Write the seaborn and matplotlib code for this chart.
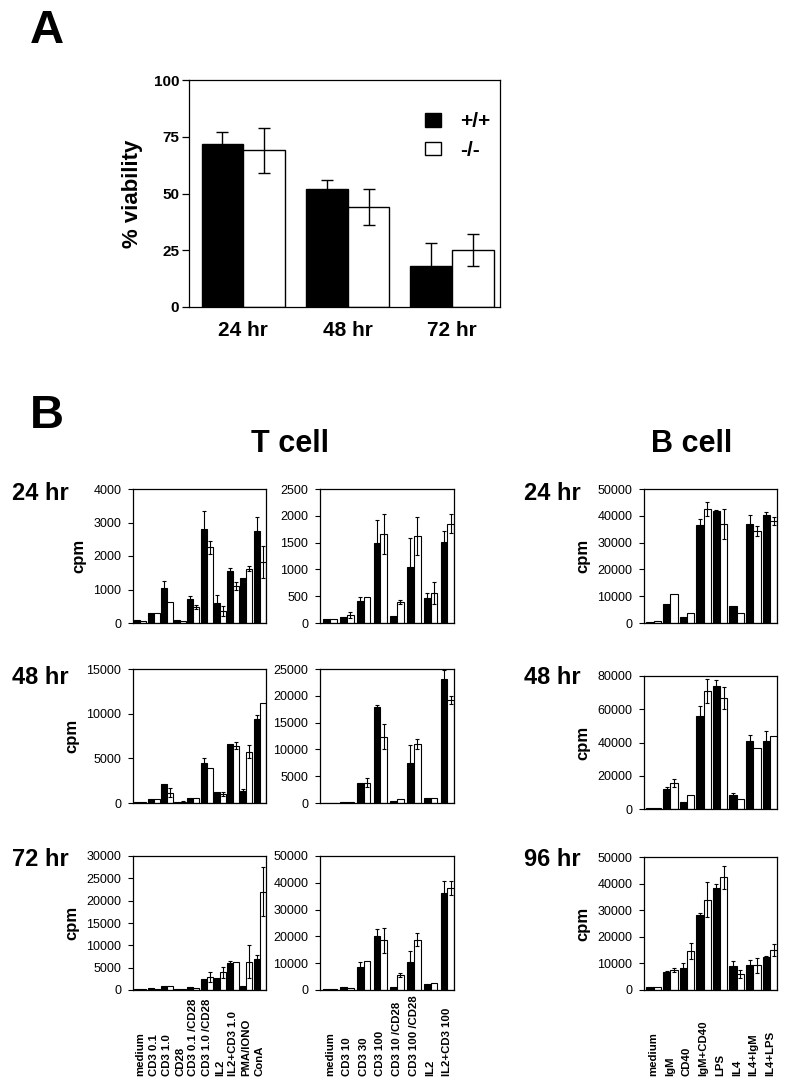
import matplotlib
matplotlib.use('Agg')
import matplotlib.pyplot as plt
import seaborn as sns
import pandas as pd

# ---------------- data ----------------
# panel A: viability
a_times = ['24 hr', '48 hr', '72 hr']
a_wt = [72, 52, 18]
a_wt_err = [5, 4, 10]
a_ko = [69, 44, 25]
a_ko_err = [10, 8, 7]

# panel B: proliferation (cpm)
t_set1 = ['medium', 'CD3 0.1', 'CD3 1.0', 'CD28', 'CD3 0.1 /CD28', 'CD3 1.0 /CD28',
          'IL2', 'IL2+CD3 1.0', 'PMA/IONO', 'ConA']
t_set2 = ['medium', 'CD3 10', 'CD3 30', 'CD3 100', 'CD3 10 /CD28', 'CD3 100 /CD28',
          'IL2', 'IL2+CD3 100']
b_set = ['medium', 'IgM', 'CD40', 'IgM+CD40', 'LPS', 'IL4', 'IL4+IgM', 'IL4+LPS']

t1_24_wt = [90, 300, 1050, 100, 720, 2800, 600, 1550, 1350, 2750]
t1_24_wt_err = [0, 0, 200, 0, 80, 550, 240, 80, 0, 410]
t1_24_ko = [50, 290, 620, 50, 470, 2260, 350, 1100, 1620, 1820]
t1_24_ko_err = [0, 0, 0, 0, 60, 200, 150, 120, 70, 470]

t1_48_wt = [150, 500, 2100, 110, 600, 4500, 1200, 6550, 1300, 9400]
t1_48_wt_err = [0, 0, 0, 0, 0, 500, 0, 0, 300, 400]
t1_48_ko = [100, 500, 1150, 110, 600, 3950, 980, 6400, 5750, 11200]
t1_48_ko_err = [0, 0, 500, 150, 0, 0, 250, 400, 700, 0]

t1_72_wt = [200, 500, 800, 300, 700, 2400, 2700, 6100, 1000, 6900]
t1_72_wt_err = [0, 0, 0, 0, 0, 0, 0, 500, 0, 1000]
t1_72_ko = [150, 300, 800, 300, 350, 2900, 4000, 6300, 6300, 22000]
t1_72_ko_err = [0, 0, 0, 0, 0, 1200, 1250, 0, 3700, 5500]

t2_24_wt = [70, 115, 410, 1500, 130, 1040, 470, 1510]
t2_24_wt_err = [0, 0, 80, 420, 0, 540, 90, 200]
t2_24_ko = [70, 150, 480, 1660, 390, 1620, 560, 1850]
t2_24_ko_err = [0, 60, 0, 380, 40, 360, 200, 180]

t2_48_wt = [80, 150, 3700, 18000, 400, 7400, 950, 23100]
t2_48_wt_err = [0, 0, 0, 200, 0, 3400, 0, 1700]
t2_48_ko = [80, 250, 3800, 12400, 700, 11000, 950, 19200]
t2_48_ko_err = [0, 0, 800, 2300, 0, 1000, 0, 800]

t2_72_wt = [200, 1000, 8600, 20000, 1000, 10500, 2200, 36100]
t2_72_wt_err = [0, 0, 1900, 2700, 0, 4100, 0, 4600]
t2_72_ko = [200, 600, 10800, 18500, 5600, 18800, 2500, 38000]
t2_72_ko_err = [0, 0, 0, 4600, 800, 2500, 0, 2600]

b_24_wt = [400, 7200, 2400, 36700, 41700, 6300, 37000, 40200]
b_24_wt_err = [0, 0, 0, 2000, 600, 0, 3200, 1200]
b_24_ko = [600, 10800, 3700, 42500, 37000, 3700, 34300, 38200]
b_24_ko_err = [0, 0, 0, 2600, 5700, 0, 2000, 1500]

b_48_wt = [500, 12000, 4400, 55800, 73800, 8400, 40800, 40800]
b_48_wt_err = [0, 1200, 0, 6200, 4000, 1400, 3600, 6400]
b_48_ko = [500, 15800, 8600, 71200, 66800, 6200, 36800, 44200]
b_48_ko_err = [0, 2500, 0, 7200, 6600, 0, 0, 0]

b_96_wt = [1000, 6800, 8400, 28100, 38200, 9000, 9250, 12250]
b_96_wt_err = [0, 500, 1800, 900, 1800, 2000, 1900, 500]
b_96_ko = [1000, 7600, 14800, 34000, 42300, 6100, 9300, 15000]
b_96_ko_err = [0, 700, 3000, 6500, 4300, 1600, 2800, 2200]

genos = ['+/+', '-/-']

# ---------------- style ----------------
sns.set_theme(style='ticks')
plt.rcParams['font.family'] = ['Liberation Sans', 'DejaVu Sans']
plt.rcParams.update({
    'axes.edgecolor': 'black', 'axes.linewidth': 0.9,
    'text.color': 'black', 'axes.labelcolor': 'black',
    'xtick.color': 'black', 'ytick.color': 'black',
})

W, H = 792, 1087
fig = plt.figure(figsize=(W / 100, H / 100), dpi=100)


def px_axes(left, right, top, bottom):
    return fig.add_axes([left / W, 1 - bottom / H, (right - left) / W, (bottom - top) / H])


def draw_bars(ax, cats, wt, wt_err, ko, ko_err, width, lw, capsize):
    df = pd.DataFrame({
        'cond': cats * 2,
        'geno': [genos[0]] * len(cats) + [genos[1]] * len(cats),
        'val': wt + ko,
    })
    sns.barplot(data=df, x='cond', y='val', hue='geno', order=cats, hue_order=genos,
                palette={'+/+': 'black', '-/-': 'white'}, edgecolor='black',
                linewidth=lw, width=width, saturation=1, errorbar=None, ax=ax)
    bars = list(ax.containers[:2])
    for cont, errs in zip(bars, [wt_err, ko_err]):
        xs = [b.get_x() + b.get_width() / 2 for b in cont]
        hs = [b.get_height() for b in cont]
        keep = [i for i, e in enumerate(errs) if e > 0]
        if keep:
            ax.errorbar([xs[i] for i in keep], [hs[i] for i in keep],
                        yerr=[errs[i] for i in keep], fmt='none', ecolor='black',
                        elinewidth=lw, capsize=capsize, capthick=lw)
    ax.set_xlabel('')
    ax.set_ylabel('')


# ---------------- panel A ----------------
axA = px_axes(189, 500, 80, 307)
draw_bars(axA, a_times, a_wt, a_wt_err, a_ko, a_ko_err, 0.8, 1.0, 4)
axA.set_ylim(0, 100)
axA.set_yticks([0, 25, 50, 75, 100])
axA.set_xlim(-0.52, 2.46)
axA.tick_params(axis='y', length=5, width=0.9, labelsize=11, pad=2)
axA.tick_params(axis='x', length=0, labelsize=15, pad=10)
for t in axA.get_xticklabels() + axA.get_yticklabels():
    t.set_fontweight('bold')
axA.set_ylabel('% viability', fontsize=16, fontweight='bold', labelpad=8)
handles, labels = axA.get_legend_handles_labels()
axA.legend(handles, labels, loc='upper left', bbox_to_anchor=(0.7, 0.94), frameon=False,
           prop={'size': 15, 'weight': 'bold'}, handlelength=0.75, handleheight=0.6,
           handletextpad=0.9, labelspacing=0.45)

# ---------------- panel B ----------------
rows = [
    # (top, bottom) for T columns, (top, bottom) for B column
    ((489, 623), (489, 623)),
    ((669, 803), (676, 809)),
    ((856, 990), (857, 990)),
]
t1_data = [(t1_24_wt, t1_24_wt_err, t1_24_ko, t1_24_ko_err, 4000, 1000),
           (t1_48_wt, t1_48_wt_err, t1_48_ko, t1_48_ko_err, 15000, 5000),
           (t1_72_wt, t1_72_wt_err, t1_72_ko, t1_72_ko_err, 30000, 5000)]
t2_data = [(t2_24_wt, t2_24_wt_err, t2_24_ko, t2_24_ko_err, 2500, 500),
           (t2_48_wt, t2_48_wt_err, t2_48_ko, t2_48_ko_err, 25000, 5000),
           (t2_72_wt, t2_72_wt_err, t2_72_ko, t2_72_ko_err, 50000, 10000)]
b_data = [(b_24_wt, b_24_wt_err, b_24_ko, b_24_ko_err, 50000, 10000),
          (b_48_wt, b_48_wt_err, b_48_ko, b_48_ko_err, 80000, 20000),
          (b_96_wt, b_96_wt_err, b_96_ko, b_96_ko_err, 50000, 10000)]

columns = [
    (133, 266, t_set1, t1_data, 0.9, (-0.55, 9.48), True),
    (320, 454, t_set2, t2_data, 0.8, (-0.6, 7.4), False),
    (644, 777, b_set, b_data, 0.88, (-0.58, 7.42), True),
]

for ci, (left, right, cats, data, width, xlim, show_cpm) in enumerate(columns):
    for ri, (wt, wt_err, ko, ko_err, ymax, ystep) in enumerate(data):
        top, bottom = rows[ri][1] if ci == 2 else rows[ri][0]
        ax = px_axes(left, right, top, bottom)
        draw_bars(ax, cats, wt, wt_err, ko, ko_err, width, 0.8, 1.5)
        ax.legend_.remove()
        ax.set_ylim(0, ymax)
        ax.set_yticks(list(range(0, ymax + 1, ystep)))
        ax.set_xlim(*xlim)
        ax.tick_params(axis='y', length=3.5, width=0.8, labelsize=9, pad=5)
        ax.tick_params(axis='x', length=0)
        if show_cpm:
            ax.set_ylabel('cpm', fontsize=12, fontweight='bold', labelpad=5)
        if ri == 2:
            # labels start at a common baseline below the axis and read upwards
            ax.set_xticks(range(len(cats)))
            ax.set_xticklabels(cats, rotation=90, va='bottom', fontsize=8.2, fontweight='bold')
            ax.tick_params(axis='x', pad=62)
        else:
            ax.tick_params(axis='x', labelbottom=False)

# ---------------- figure text ----------------
fig.text(30 / W, 1 - 9 / H, 'A', fontsize=34, fontweight='bold', va='top')
fig.text(30 / W, 1 - 394 / H, 'B', fontsize=34, fontweight='bold', va='top')
fig.text(290 / W, 1 - 429 / H, 'T cell', fontsize=22, fontweight='bold', ha='center', va='top')
fig.text(692 / W, 1 - 429 / H, 'B cell', fontsize=22, fontweight='bold', ha='center', va='top')

row_names_t = ['24 hr', '48 hr', '72 hr']
row_names_b = ['24 hr', '48 hr', '96 hr']
baselines = [500, 684, 866]
for name_t, name_b, base in zip(row_names_t, row_names_b, baselines):
    fig.text(12 / W, 1 - base / H, name_t, fontsize=17, fontweight='bold', va='baseline')
    fig.text(524 / W, 1 - base / H, name_b, fontsize=17, fontweight='bold', va='baseline')

fig.savefig('out.png', dpi=100)
